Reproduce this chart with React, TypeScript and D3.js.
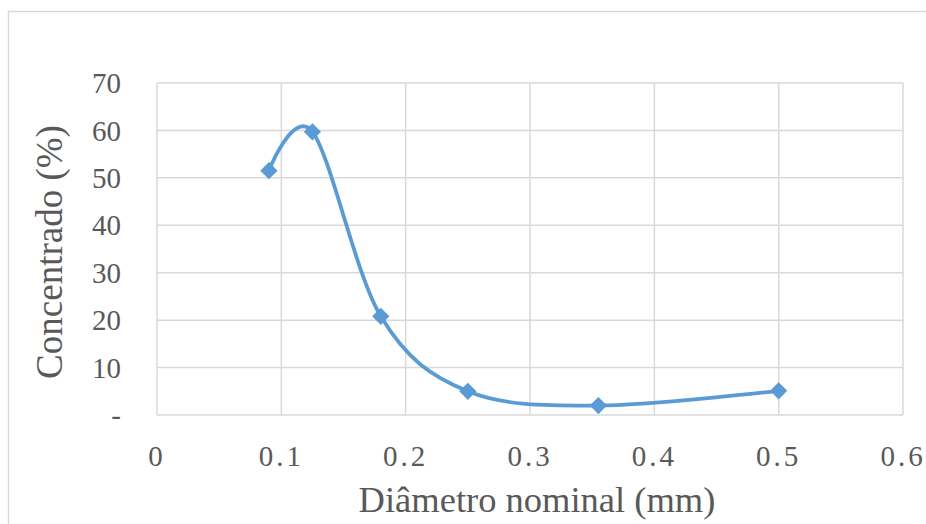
import React from "react";
import * as d3 from "d3";

const diameters = [0.09, 0.125, 0.18, 0.25, 0.355, 0.5];
const concentrado = [51.5, 59.7, 20.8, 5.0, 2.0, 5.1];
const xTicks = [0, 0.1, 0.2, 0.3, 0.4, 0.5, 0.6];
const yTicks = [0, 10, 20, 30, 40, 50, 60, 70];
const xTitle = "Diâmetro nominal (mm)";
const yTitle = "Concentrado (%)";

const W = 926;
const H = 524;
const M = { left: 157, right: 903, top: 83, bottom: 415 };

export default function App() {
  const x = d3.scaleLinear().domain([0, 0.6]).range([M.left, M.right]);
  const y = d3.scaleLinear().domain([0, 70]).range([M.bottom, M.top]);
  const pts: [number, number][] = diameters.map((d, i) => [x(d), y(concentrado[i])]);
  const line = d3.line().curve(d3.curveCardinal.tension(0))(pts) || "";
  const grid = "#d9d9d9";
  const txt = "#595959";
  const font = "'Liberation Serif', 'Times New Roman', serif";
  const diamond = d3.symbol().type(d3.symbolDiamond2).size(190)() || "";
  return (
    <svg
      width={W}
      height={H}
      style={{ position: "absolute", left: 0, top: 0, background: "#fff" }}
      fontFamily={font}
    >
      <rect x={8.5} y={11.5} width={940} height={540} fill="#fff" stroke={grid} strokeWidth={1.5} />
      {yTicks.map((t) => (
        <line key={"gy" + t} x1={M.left} x2={M.right} y1={y(t)} y2={y(t)} stroke={grid} strokeWidth={1.5} />
      ))}
      {xTicks.map((t) => (
        <line key={"gx" + t} x1={x(t)} x2={x(t)} y1={M.top} y2={M.bottom} stroke={grid} strokeWidth={1.5} />
      ))}
      {yTicks.map((t) => (
        <text
          key={"ty" + t}
          x={121}
          y={y(t)}
          dy="0.35em"
          textAnchor="end"
          fontSize={29}
          fill={txt}
        >
          {t === 0 ? "-" : String(t)}
        </text>
      ))}
      {xTicks.map((t) => (
        <text
          key={"tx" + t}
          x={x(t)}
          y={466}
          textAnchor="middle"
          fontSize={29}
          letterSpacing={3}
          fill={txt}
        >
          {String(t)}
        </text>
      ))}
      <text x={537} y={512} textAnchor="middle" fontSize={36.5} fill={txt}>
        {xTitle}
      </text>
      <text
        transform={`translate(62, 252) rotate(-90)`}
        textAnchor="middle"
        fontSize={37}
        fill={txt}
      >
        {yTitle}
      </text>
      <path d={line} fill="none" stroke="#5b9bd5" strokeWidth={3.8} />
      {pts.map((p, i) => (
        <path key={"m" + i} d={diamond} transform={`translate(${p[0]},${p[1]})`} fill="#5b9bd5" />
      ))}
    </svg>
  );
}
